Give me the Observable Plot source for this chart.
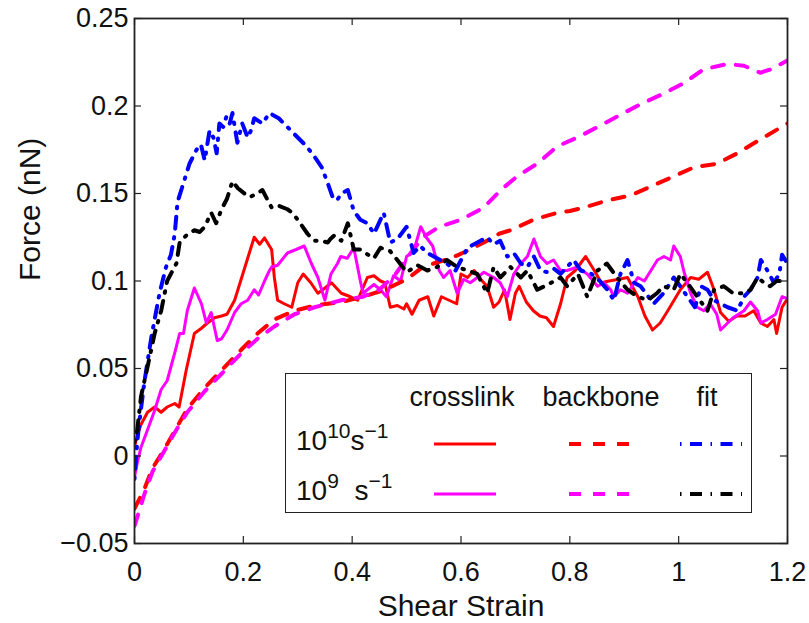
<!DOCTYPE html>
<html>
<head>
<meta charset="utf-8">
<script src="https://cdn.jsdelivr.net/npm/d3@7"></script>
<script src="https://cdn.jsdelivr.net/npm/@observablehq/plot@0.6"></script>
<style>
  html, body { margin: 0; padding: 0; background: #fff; }
  #wrap { position: relative; width: 809px; height: 623px; font-family: "Liberation Sans", Arial, Helvetica, sans-serif; }
  #legend { position: absolute; left: 285px; top: 373px; width: 465px; height: 138px; border: 1.5px solid #222; background: #fff; }
  #legend .hdr { position: absolute; top: 8px; font-size: 27px; transform: translateX(-50%); white-space: nowrap; color: #111; }
  #legend .row { position: absolute; left: 10px; font-size: 28px; white-space: nowrap; color: #111; }
  #legend .row sup { font-size: 21px; vertical-align: 0; position: relative; top: -12px; }
  #legend svg { position: absolute; overflow: visible; }
</style>
</head>
<body>
<div id="wrap"></div>
<script>
// ---- data ----
const xTicks = [0, 0.2, 0.4, 0.6, 0.8, 1, 1.2];
const yTicks = [-0.05, 0, 0.05, 0.1, 0.15, 0.2, 0.25];
const legendHeaders = ["crosslink", "backbone", "fit"];
const rateBases = ["10", "10"];
const rateExps = ["10", "9"];

// crosslink, 10^10 s^-1 (red solid)
const crosslinkHigh = [[0,0.005],[0.005,0.012],[0.012,0.018],[0.024,0.025],[0.037,0.028],[0.049,0.025],[0.06,0.028],[0.074,0.030],[0.082,0.028],[0.095,0.049],[0.11,0.070],[0.123,0.073],[0.134,0.076],[0.147,0.079],[0.16,0.080],[0.17,0.081],[0.184,0.089],[0.197,0.102],[0.21,0.115],[0.22,0.125],[0.23,0.121],[0.239,0.1246],[0.252,0.118],[0.257,0.102],[0.263,0.089],[0.275,0.087],[0.289,0.085],[0.30,0.099],[0.31,0.104],[0.324,0.099],[0.337,0.093],[0.35,0.096],[0.362,0.099],[0.38,0.093],[0.397,0.091],[0.41,0.089],[0.428,0.102],[0.44,0.103],[0.452,0.100],[0.46,0.099],[0.47,0.085],[0.483,0.086],[0.495,0.084],[0.50,0.087],[0.51,0.081],[0.523,0.089],[0.539,0.091],[0.55,0.080],[0.564,0.091],[0.578,0.089],[0.592,0.087],[0.60,0.104],[0.612,0.102],[0.624,0.106],[0.636,0.101],[0.648,0.097],[0.66,0.085],[0.67,0.088],[0.68,0.095],[0.69,0.078],[0.70,0.093],[0.707,0.097],[0.72,0.088],[0.733,0.083],[0.745,0.080],[0.757,0.079],[0.77,0.074],[0.783,0.087],[0.795,0.102],[0.81,0.106],[0.829,0.114],[0.843,0.107],[0.858,0.099],[0.872,0.100],[0.89,0.101],[0.906,0.102],[0.925,0.091],[0.938,0.080],[0.952,0.072],[0.966,0.076],[0.98,0.083],[1.003,0.095],[1.022,0.102],[1.037,0.101],[1.053,0.105],[1.065,0.095],[1.077,0.082],[1.092,0.077],[1.107,0.080],[1.122,0.080],[1.138,0.083],[1.151,0.076],[1.163,0.074],[1.175,0.078],[1.18,0.070],[1.19,0.085],[1.2,0.090]];

// crosslink, 10^9 s^-1 (magenta solid)
const crosslinkLow = [[0,-0.012],[0.005,-0.004],[0.012,0.005],[0.024,0.015],[0.037,0.026],[0.049,0.038],[0.06,0.043],[0.074,0.059],[0.083,0.070],[0.09,0.070],[0.097,0.083],[0.11,0.096],[0.123,0.087],[0.132,0.076],[0.141,0.082],[0.152,0.066],[0.16,0.067],[0.17,0.072],[0.184,0.082],[0.196,0.087],[0.208,0.089],[0.22,0.095],[0.228,0.092],[0.239,0.10],[0.248,0.106],[0.252,0.108],[0.263,0.109],[0.281,0.116],[0.297,0.118],[0.312,0.12],[0.325,0.11],[0.337,0.102],[0.35,0.089],[0.361,0.104],[0.373,0.11],[0.379,0.114],[0.391,0.113],[0.403,0.119],[0.415,0.10],[0.42,0.093],[0.44,0.098],[0.452,0.095],[0.463,0.091],[0.476,0.103],[0.489,0.10],[0.50,0.114],[0.513,0.117],[0.526,0.131],[0.536,0.125],[0.548,0.12],[0.56,0.106],[0.568,0.102],[0.58,0.106],[0.593,0.093],[0.605,0.101],[0.617,0.099],[0.63,0.102],[0.642,0.105],[0.66,0.102],[0.672,0.099],[0.685,0.091],[0.697,0.104],[0.71,0.11],[0.722,0.114],[0.734,0.124],[0.746,0.114],[0.758,0.110],[0.77,0.112],[0.783,0.106],[0.795,0.106],[0.814,0.108],[0.832,0.104],[0.851,0.097],[0.863,0.099],[0.875,0.095],[0.881,0.091],[0.893,0.095],[0.906,0.093],[0.925,0.102],[0.937,0.100],[0.949,0.106],[0.961,0.112],[0.973,0.114],[0.985,0.112],[0.991,0.12],[1.003,0.114],[1.01,0.105],[1.022,0.093],[1.034,0.085],[1.046,0.083],[1.058,0.087],[1.07,0.081],[1.077,0.072],[1.09,0.076],[1.10,0.079],[1.12,0.083],[1.132,0.088],[1.145,0.083],[1.151,0.076],[1.163,0.078],[1.178,0.081],[1.19,0.091],[1.2,0.09]];

// backbone, 10^10 s^-1 (red dashed)
const backboneHigh = [[0,-0.03],[0.018,-0.019],[0.033,-0.007],[0.055,0.004],[0.077,0.016],[0.097,0.027],[0.129,0.039],[0.16,0.049],[0.197,0.061],[0.226,0.07],[0.257,0.078],[0.294,0.083],[0.331,0.086],[0.38,0.088],[0.42,0.091],[0.46,0.095],[0.5,0.101],[0.53,0.108],[0.56,0.111],[0.581,0.113],[0.61,0.117],[0.642,0.122],[0.67,0.127],[0.691,0.129],[0.733,0.135],[0.777,0.139],[0.8,0.140],[0.826,0.142],[0.869,0.146],[0.912,0.149],[0.949,0.154],[0.985,0.159],[1.028,0.165],[1.07,0.167],[1.108,0.173],[1.145,0.18],[1.2,0.19]];

// backbone, 10^9 s^-1 (magenta dashed)
const backboneLow = [[0,-0.04],[0.018,-0.022],[0.033,-0.009],[0.055,0.003],[0.077,0.015],[0.097,0.025],[0.129,0.037],[0.16,0.047],[0.197,0.059],[0.226,0.067],[0.257,0.074],[0.294,0.081],[0.331,0.085],[0.38,0.089],[0.42,0.091],[0.45,0.095],[0.48,0.104],[0.5,0.113],[0.53,0.125],[0.56,0.131],[0.6,0.135],[0.642,0.142],[0.673,0.152],[0.704,0.16],[0.74,0.167],[0.777,0.177],[0.814,0.182],[0.851,0.188],[0.893,0.195],[0.936,0.202],[0.972,0.207],[1.009,0.213],[1.046,0.221],[1.09,0.224],[1.12,0.223],[1.15,0.219],[1.17,0.221],[1.2,0.226]];

// fit, 10^10 s^-1 (blue dash-dot)
const fitHigh = [[0,-0.013],[0.005,0.008],[0.01,0.022],[0.018,0.042],[0.031,0.068],[0.046,0.093],[0.058,0.108],[0.067,0.115],[0.074,0.127],[0.079,0.145],[0.092,0.158],[0.101,0.167],[0.114,0.175],[0.122,0.178],[0.129,0.169],[0.138,0.186],[0.145,0.182],[0.151,0.173],[0.156,0.19],[0.163,0.188],[0.169,0.194],[0.175,0.19],[0.18,0.196],[0.189,0.179],[0.198,0.19],[0.208,0.182],[0.214,0.186],[0.22,0.193],[0.235,0.19],[0.248,0.196],[0.265,0.193],[0.281,0.188],[0.30,0.182],[0.316,0.177],[0.331,0.171],[0.344,0.165],[0.355,0.156],[0.364,0.148],[0.372,0.146],[0.38,0.15],[0.392,0.152],[0.403,0.14],[0.415,0.135],[0.428,0.133],[0.44,0.127],[0.458,0.139],[0.47,0.122],[0.483,0.124],[0.50,0.131],[0.513,0.116],[0.525,0.12],[0.538,0.116],[0.55,0.114],[0.562,0.112],[0.574,0.11],[0.59,0.106],[0.612,0.119],[0.624,0.121],[0.636,0.123],[0.648,0.125],[0.66,0.121],[0.672,0.123],[0.685,0.114],[0.697,0.116],[0.71,0.11],[0.722,0.108],[0.734,0.114],[0.746,0.106],[0.759,0.105],[0.771,0.107],[0.783,0.104],[0.795,0.108],[0.807,0.112],[0.82,0.106],[0.84,0.104],[0.855,0.1],[0.869,0.095],[0.881,0.089],[0.893,0.104],[0.906,0.112],[0.918,0.099],[0.93,0.097],[0.942,0.092],[0.954,0.087],[0.972,0.093],[0.991,0.102],[1.003,0.097],[1.016,0.091],[1.03,0.085],[1.041,0.097],[1.053,0.095],[1.065,0.089],[1.09,0.085],[1.108,0.083],[1.12,0.091],[1.132,0.095],[1.145,0.102],[1.151,0.112],[1.163,0.106],[1.175,0.099],[1.185,0.104],[1.19,0.115],[1.2,0.11]];

// fit, 10^9 s^-1 (black dash-dot)
const fitLow = [[0,0.008],[0.005,0.015],[0.012,0.034],[0.024,0.051],[0.037,0.07],[0.049,0.083],[0.06,0.10],[0.077,0.11],[0.083,0.122],[0.095,0.126],[0.11,0.129],[0.12,0.128],[0.129,0.131],[0.141,0.139],[0.15,0.133],[0.16,0.141],[0.17,0.147],[0.18,0.157],[0.19,0.153],[0.202,0.15],[0.212,0.148],[0.225,0.15],[0.235,0.152],[0.245,0.146],[0.252,0.142],[0.265,0.143],[0.281,0.141],[0.29,0.139],[0.30,0.135],[0.318,0.127],[0.33,0.123],[0.343,0.123],[0.355,0.122],[0.36,0.124],[0.367,0.126],[0.38,0.123],[0.392,0.133],[0.403,0.118],[0.415,0.118],[0.434,0.114],[0.44,0.113],[0.452,0.119],[0.47,0.117],[0.483,0.112],[0.50,0.105],[0.52,0.109],[0.538,0.106],[0.556,0.108],[0.574,0.112],[0.593,0.108],[0.612,0.106],[0.63,0.104],[0.648,0.093],[0.66,0.108],[0.672,0.102],[0.691,0.108],[0.71,0.102],[0.722,0.106],[0.74,0.095],[0.76,0.098],[0.783,0.102],[0.795,0.097],[0.815,0.104],[0.832,0.091],[0.851,0.106],[0.868,0.11],[0.887,0.102],[0.906,0.095],[0.925,0.091],[0.943,0.089],[0.96,0.093],[0.972,0.097],[0.991,0.095],[1.003,0.104],[1.016,0.099],[1.034,0.091],[1.053,0.083],[1.065,0.095],[1.083,0.097],[1.1,0.093],[1.12,0.093],[1.132,0.095],[1.145,0.102],[1.157,0.099],[1.168,0.097],[1.18,0.1],[1.2,0.1]];

// ---- styles ----
const solid = null, dashed = "12,12", dashdot = "1.5,8.5,12,8.5";
const series = [
  {data: crosslinkHigh, stroke: "#ff0000", width: 3, dash: solid},
  {data: crosslinkLow,  stroke: "#ff00ff", width: 3, dash: solid},
  {data: backboneHigh,  stroke: "#ff0000", width: 4, dash: dashed},
  {data: backboneLow,   stroke: "#ff00ff", width: 4, dash: dashed},
  {data: fitHigh,       stroke: "#0000ff", width: 4, dash: dashdot},
  {data: fitLow,        stroke: "#000000", width: 4, dash: dashdot}
];

const W = 809, H = 623, mL = 134, mR = 22, mT = 18, mB = 80;
const plotW = W - mL - mR, plotH = H - mT - mB;
const fmt = d => d < 0 ? "\u2212" + Math.abs(d) : String(d);
const FONT = "Liberation Sans, Arial, Helvetica, sans-serif";

const marks = [];
for (const s of series) {
  marks.push(Plot.line(s.data.map(([x, y]) => ({x, y})), {
    x: "x", y: "y", stroke: s.stroke, strokeWidth: s.width,
    strokeDasharray: s.dash, strokeLinejoin: "round", clip: true
  }));
}

const chart = Plot.plot({
  width: W, height: H,
  marginLeft: mL, marginRight: mR, marginTop: mT, marginBottom: mB,
  style: {fontFamily: FONT, background: "white", color: "#111"},
  x: {domain: [0, 1.2]},
  y: {domain: [-0.05, 0.25]},
  marks: [
    ...marks,
    Plot.tickX(xTicks, {x: d => d, insetTop: plotH - 7, stroke: "#222", strokeWidth: 1.2}),
    Plot.tickX(xTicks, {x: d => d, insetBottom: plotH - 7, stroke: "#222", strokeWidth: 1.2}),
    Plot.tickY(yTicks, {y: d => d, insetRight: plotW - 7, stroke: "#222", strokeWidth: 1.2}),
    Plot.tickY(yTicks, {y: d => d, insetLeft: plotW - 7, stroke: "#222", strokeWidth: 1.2}),
    Plot.frame({stroke: "#222", strokeWidth: 1.8}),
    Plot.axisX(xTicks, {tickSize: 0, tickPadding: 18, fontSize: 27, tickFormat: fmt, label: null}),
    Plot.axisY(yTicks, {tickSize: 0, tickPadding: 6, fontSize: 27, tickFormat: fmt, label: null}),
    Plot.text(["Shear Strain"], {frameAnchor: "bottom", dy: 72, fontSize: 30, fill: "#111"}),
    Plot.text(["Force (nN)"], {frameAnchor: "left", dx: -104, rotate: -90, fontSize: 30, fill: "#111"})
  ]
});

const wrap = document.getElementById("wrap");
wrap.appendChild(chart);

// ---- legend ----
const legend = document.createElement("div");
legend.id = "legend";
const hdrX = [176, 315, 421];
legendHeaders.forEach((h, i) => {
  const el = document.createElement("div");
  el.className = "hdr";
  el.style.left = hdrX[i] + "px";
  el.textContent = h;
  legend.appendChild(el);
});
const rowY = [70, 120];
rateBases.forEach((b, r) => {
  const el = document.createElement("div");
  el.className = "row";
  el.style.top = (rowY[r] - 19) + "px";
  const sp = r === 1 ? "&nbsp;&nbsp;" : "";
  el.innerHTML = b + "<sup>" + rateExps[r] + "</sup>" + sp + "s<sup>\u22121</sup>";
  legend.appendChild(el);
});
const sampleX = [148, 283, 394];
const sampleW = 62;
// series order: [crossHigh, crossLow, backHigh, backLow, fitHigh, fitLow]
for (let c = 0; c < 3; c++) {
  for (let r = 0; r < 2; r++) {
    const s = series[c * 2 + r];
    const svg = document.createElementNS("http://www.w3.org/2000/svg", "svg");
    svg.setAttribute("width", sampleW);
    svg.setAttribute("height", 8);
    svg.style.left = sampleX[c] + "px";
    svg.style.top = (rowY[r] - 4) + "px";
    const ln = document.createElementNS("http://www.w3.org/2000/svg", "line");
    ln.setAttribute("x1", 0); ln.setAttribute("x2", sampleW);
    ln.setAttribute("y1", 4); ln.setAttribute("y2", 4);
    ln.setAttribute("stroke", s.stroke);
    ln.setAttribute("stroke-width", s.width);
    if (s.dash) ln.setAttribute("stroke-dasharray", s.dash);
    svg.appendChild(ln);
    legend.appendChild(svg);
  }
}
wrap.appendChild(legend);
</script>
</body>
</html>
